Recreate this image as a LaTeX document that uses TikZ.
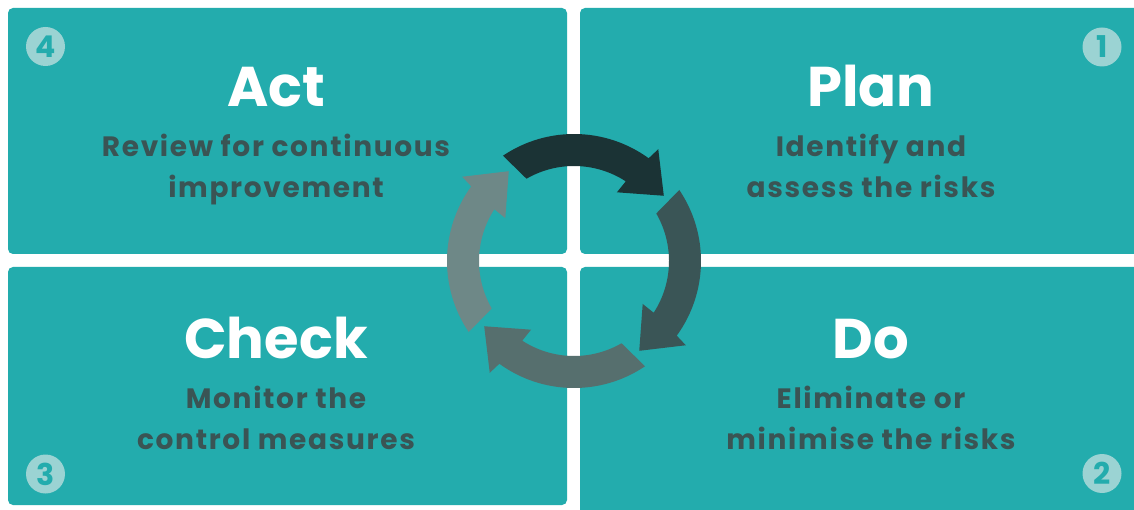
\documentclass[tikz,border=0pt]{standalone}
\usepackage{fontspec}
\setmainfont{Poppins}
\usetikzlibrary{positioning}
\definecolor{panelteal}{RGB}{35,172,173}
\definecolor{badgeteal}{RGB}{155,211,211}
\definecolor{subgray}{RGB}{58,84,84}
\definecolor{planArrow}{RGB}{27,51,53}
\definecolor{doArrow}{RGB}{58,85,86}
\definecolor{checkArrow}{RGB}{86,111,110}
\definecolor{actArrow}{RGB}{110,136,135}

\begin{document}
\begin{tikzpicture}[x=1pt,y=1pt,
    panel/.style={fill=panelteal,rounded corners=5pt},
    title/.style={font=\fontsize{56}{56}\selectfont\bfseries,text=white,inner sep=0pt},
    subtitle/.style={font=\fontsize{28}{41}\selectfont\bfseries\addfontfeature{LetterSpace=6},
                     text=subgray,align=center,inner sep=0pt},
    badge/.style={circle,fill=badgeteal,text=panelteal,minimum size=39pt,inner sep=0pt,
                  font=\fontsize{30}{30}\selectfont\bfseries},
    ring arrow/.pic={\path[pic actions] (124:127) arc[start angle=124,end angle=54,radius=127]
        -- (53:140) -- (36:111) -- (58:81) -- (57:95)
        arc[start angle=57,end angle=120,radius=95] -- cycle;}]
    \fill[white] (0,0) rectangle (1134,509);
    \clip (0,0) rectangle (1134,509);
    % four panels
    \fill[panel] (8,255) rectangle (567,501);
    \fill[panel] (580,255) rectangle (1150,501);
    \fill[panel] (8,4) rectangle (567,242);
    \fill[panel] (580,-10) rectangle (1150,242);
    % badges
    \node[badge] (b4) at (45.5,462.5) {4};
    \node[badge] (b1) at (1102,462) {1};
    \node[badge] (b3) at (45.5,35) {3};
    \node[badge] (b2) at (1102,35.5) {2};
    % titles and texts (base of a two line text is its last line)
    \node[title,anchor=base] (act) at (276,402) {Act};
    \node[subtitle,below=91pt of act.base,anchor=base] (actText) {Review for continuous\\improvement};
    \node[title,anchor=base] (plan) at (871,402) {Plan};
    \node[subtitle,below=91pt of plan.base,anchor=base] (planText) {Identify and\\assess the risks};
    \node[title,anchor=base] (check) at (276,151) {Check};
    \node[subtitle,below=91pt of check.base,anchor=base] (checkText) {Monitor the\\control measures};
    \node[title,anchor=base] (do) at (871,151) {Do};
    \node[subtitle,below=91pt of do.base,anchor=base] (doText) {Eliminate or\\minimise the risks};
    % cycle
    \coordinate (ring) at (574,248);
    \pic[fill=planArrow] at (ring) {ring arrow};
    \pic[fill=doArrow,rotate=-90] at (ring) {ring arrow};
    \pic[fill=checkArrow,rotate=-180] at (ring) {ring arrow};
    \pic[fill=actArrow,rotate=-270] at (ring) {ring arrow};
\end{tikzpicture}
\end{document}
